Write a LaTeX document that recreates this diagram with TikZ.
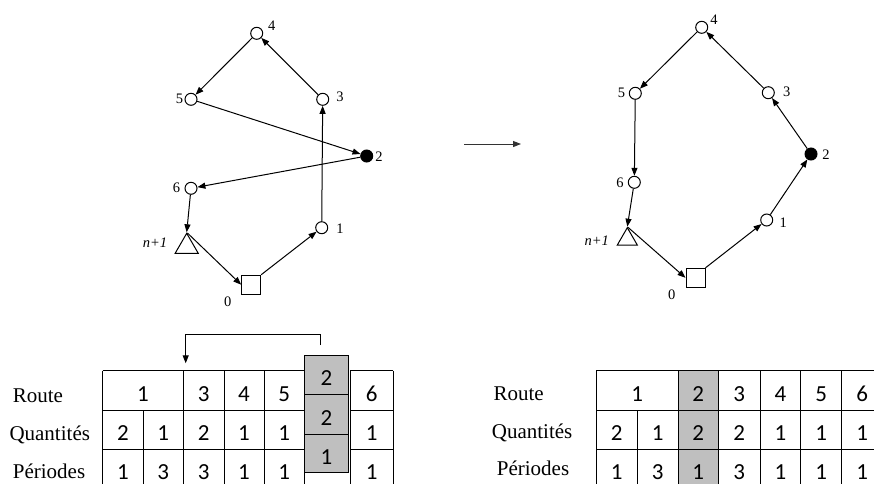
\documentclass[tikz,border=0pt]{standalone}
\usepackage{fontspec}
\setmainfont{Liberation Serif}
\newfontfamily\carlito{Carlito}
\usetikzlibrary{arrows.meta,shapes.geometric}
\definecolor{cellgray}{RGB}{191,191,191}
\tikzset{
  vtx/.style={circle,draw,minimum size=12pt,inner sep=0pt,line width=1pt,fill=white},
  vtxf/.style={vtx,fill=black},
  depot/.style={rectangle,draw,minimum size=19pt,inner sep=0pt,line width=1pt},
  endtri/.style={regular polygon,regular polygon sides=3,draw,inner sep=0pt,line width=1pt},
  lbl/.style={font=\fontsize{14.5}{16}\selectfont,inner sep=0pt},
  arc/.style={line width=1pt,-{Triangle[length=8pt,width=6pt]}},
  rowlbl/.style={font=\fontsize{21}{24}\selectfont,inner sep=0pt,anchor=base west},
  num/.style={font=\carlito\fontsize{23}{26}\selectfont,inner sep=0pt,anchor=base},
  gridline/.style={line width=1pt},
  shade/.style={fill=cellgray,draw,line width=1pt}
}
\begin{document}
\begin{tikzpicture}[x=1pt,y=-1pt]
\clip (0,0) rectangle (874,483);
\fill[white] (0,0) rectangle (874,483);

% ---------- left graph ----------
\node[vtx]  (A4) at (256.7,33.3) {};
\node[vtx]  (A5) at (191,99.3) {};
\node[vtx]  (A3) at (322.7,99.3) {};
\node[vtxf] (A2) at (366.7,156) {};
\node[vtx]  (A6) at (191,188.3) {};
\node[vtx]  (A1) at (321.7,227.7) {};
\node[endtri,minimum size=26.6pt] (AT) at (186.7,246.6) {};
\node[depot] (A0) at (251.2,284.7) {};
\node[lbl] (lA4) at (271.7,26) {4};
\node[lbl] (lA5) at (179.5,99) {5};
\node[lbl] (lA3) at (340,97) {3};
\node[lbl] (lA2) at (379,157) {2};
\node[lbl] (lA6) at (176.5,187.7) {6};
\node[lbl] (lA1) at (340,229) {1};
\node[lbl] (lAT) at (155,243) {\textit{n+1}};
\node[lbl] (lA0) at (227.7,301.7) {0};
\draw[arc] (A0.north east) -- (A1);
\draw[arc] (A1) -- (A3);
\draw[arc] (A3) -- (A4);
\draw[arc] (A4) -- (A5);
\draw[arc] (A5) -- (A2);
\draw[arc] (A2) -- (A6);
\draw[arc] (A6) -- (AT.corner 1);
\draw[arc,shorten <=1pt] (AT.corner 1) -- (A0.west);

% ---------- middle arrow ----------
\coordinate (m1) at (464.3,144);
\coordinate (m2) at (521,144);
\draw[arc,draw=black!80] (m1) -- (m2);

% ---------- right graph ----------
\node[vtx]  (B4) at (701.7,27.3) {};
\node[vtx]  (B5) at (635.3,93.3) {};
\node[vtx]  (B3) at (768.3,92.7) {};
\node[vtxf] (B2) at (811,154) {};
\node[vtx]  (B6) at (634.3,182.3) {};
\node[vtx]  (B1) at (766.7,220) {};
\node[endtri,minimum size=23.1pt] (BT) at (627.3,239.25) {};
\node[depot] (B0) at (695.5,277.8) {};
\node[lbl] (lB4) at (714,20) {4};
\node[lbl] (lB5) at (621.5,92.7) {5};
\node[lbl] (lB3) at (786.7,91.7) {3};
\node[lbl] (lB2) at (826,155) {2};
\node[lbl] (lB6) at (620,182.7) {6};
\node[lbl] (lB1) at (783.3,222.7) {1};
\node[lbl] (lBT) at (596.7,241) {\textit{n+1}};
\node[lbl] (lB0) at (671.7,295) {0};
\draw[arc] (B0.north east) -- (B1);
\draw[arc] (B1) -- (B2);
\draw[arc] (B2) -- (B3);
\draw[arc] (B3) -- (B4);
\draw[arc] (B4) -- (B5);
\draw[arc] (B5) -- (B6);
\draw[arc] (B6) -- (BT.corner 1);
\draw[arc,shorten <=1pt] (BT.corner 1) -- (B0.west);

% ---------- left table ----------
\node[rowlbl] (LR) at (12.7,402) {Route};
\node[rowlbl] (LQ) at (9.3,440.5) {Quantités};
\node[rowlbl] (LP) at (12.7,478.5) {Périodes};
\foreach \y in {370.7,410,449.3,488.6}{
  \draw[gridline] (102.7,\y) -- (304.5,\y);
  \draw[gridline] (350,\y) -- (393.3,\y);
}
\foreach \x in {102.7,183.3,224,264,304.5,350,393.3}{
  \draw[gridline] (\x,370.7) -- (\x,488.6);
}
\draw[gridline] (143.3,410) -- (143.3,488.6);
\draw[shade] (304.5,355) rectangle (348.5,472.3);
\draw[gridline] (304.5,394.3) -- (348.5,394.3);
\draw[gridline] (304.5,434) -- (348.5,434);
\foreach \x/\v [count=\i] in {143/1,203.65/3,244/4,284.25/5,371.65/6}
  \node[num,name=LTa\i] at (\x,401) {\v};
\foreach \x/\v [count=\i] in {123/2,163.3/1,203.65/2,244/1,284.25/1,371.65/1}
  \node[num,name=LTb\i] at (\x,440.5) {\v};
\foreach \x/\v [count=\i] in {123/1,163.3/3,203.65/3,244/1,284.25/1,371.65/1}
  \node[num,name=LTc\i] at (\x,479.8) {\v};
\node[num] (G1) at (326.5,385.5) {2};
\node[num] (G2) at (326.5,425) {2};
\node[num] (G3) at (326.5,464) {1};
% bracket arrow
\coordinate (k1) at (320,345);
\coordinate (k2) at (320,334);
\coordinate (k3) at (185.7,334);
\coordinate (k4) at (185.7,363.3);
\draw[arc] (k1) -- (k2) -- (k3) -- (k4);

% ---------- right table ----------
\node[rowlbl] (RR) at (493.3,400) {Route};
\node[rowlbl] (RQ) at (491.7,438.3) {Quantités};
\node[rowlbl] (RP) at (496.7,475) {Périodes};
\fill[cellgray] (678.3,370.7) rectangle (718.3,488.6);
\foreach \y in {370.7,410,449.3,488.6}{
  \draw[gridline] (596,\y) -- (882.7,\y);
}
\foreach \x in {596,678.3,718.3,760,800.7,841.7,882.7}{
  \draw[gridline] (\x,370.7) -- (\x,488.6);
}
\draw[gridline] (637.3,410) -- (637.3,488.6);
\foreach \x/\v [count=\i] in {637.15/1,698.3/2,739.15/3,780.35/4,821.2/5,862.2/6}
  \node[num,name=RTa\i] at (\x,401) {\v};
\foreach \x/\v [count=\i] in {616.65/2,657.8/1,698.3/2,739.15/2,780.35/1,821.2/1,862.2/1}
  \node[num,name=RTb\i] at (\x,440.5) {\v};
\foreach \x/\v [count=\i] in {616.65/1,657.8/3,698.3/1,739.15/3,780.35/1,821.2/1,862.2/1}
  \node[num,name=RTc\i] at (\x,479.8) {\v};
\end{tikzpicture}
\end{document}
